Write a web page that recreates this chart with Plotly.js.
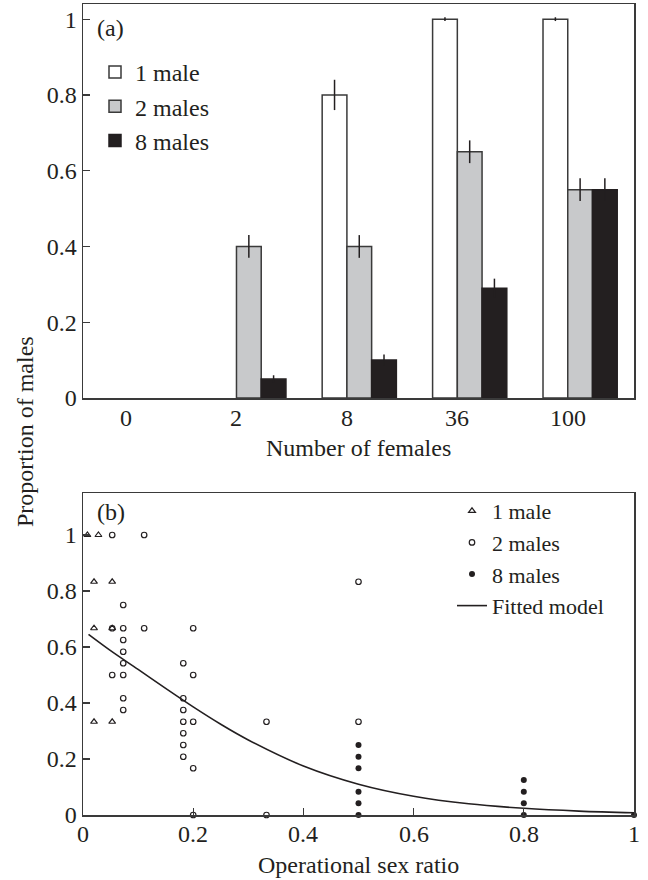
<!DOCTYPE html>
<html>
<head>
<meta charset="utf-8">
<script src="https://cdn.plot.ly/plotly-3.0.1.min.js"></script>
<style>html,body{margin:0;padding:0;background:#fff;}#chart{width:648px;height:880px;}</style>
</head>
<body>
<div id="chart"></div>
<script>
// Panel (a): proportion of males by number of females
const females = ['0', '2', '8', '36', '100'];
const male1 = [null, null, 0.80, 1.00, 1.00];
const male1Err = [0, 0, 0.04, 0.005, 0.005];
const males2 = [null, 0.40, 0.40, 0.65, 0.55];
const males2Err = [0, 0.03, 0.03, 0.03, 0.03];
const males8 = [null, 0.05, 0.10, 0.29, 0.55];
const males8Err = [0, 0.01, 0.015, 0.025, 0.03];

// Panel (b): proportion of males vs operational sex ratio
const osr1 = [0.008, 0.028, 0.020, 0.053, 0.020, 0.053, 0.020, 0.053];
const prop1 = [1.000, 1.000, 0.833, 0.833, 0.667, 0.667, 0.333, 0.333];

const osr2 = [0.053, 0.111, 0.073, 0.053, 0.073, 0.111, 0.200, 0.073, 0.073, 0.073,
              0.182, 0.053, 0.073, 0.200, 0.073, 0.182, 0.073, 0.182, 0.182, 0.200,
              0.333, 0.182, 0.182, 0.182, 0.200, 0.200, 0.333, 0.500, 0.500];
const prop2 = [1.000, 1.000, 0.750, 0.667, 0.667, 0.667, 0.667, 0.625, 0.583, 0.542,
               0.542, 0.500, 0.500, 0.500, 0.417, 0.417, 0.375, 0.375, 0.333, 0.333,
               0.333, 0.292, 0.250, 0.208, 0.167, 0.000, 0.000, 0.833, 0.333];

const osr8 = [0.5, 0.5, 0.5, 0.5, 0.5, 0.5, 0.8, 0.8, 0.8, 0.8, 1.0];
const prop8 = [0.250, 0.208, 0.167, 0.083, 0.042, 0.000, 0.125, 0.083, 0.042, 0.000, 0.000];

const fitX = [0.01, 0.05, 0.10, 0.15, 0.20, 0.25, 0.30, 0.40, 0.50, 0.60, 0.70, 0.80, 0.90, 1.00];
const fitY = [0.645, 0.587, 0.520, 0.452, 0.386, 0.324, 0.268, 0.175, 0.110, 0.067, 0.040, 0.024, 0.014, 0.008];

const yTicks = [0, 0.2, 0.4, 0.6, 0.8, 1];
const osrTicks = [0, 0.2, 0.4, 0.6, 0.8, 1];

const FONT = 'Liberation Serif, Times New Roman, serif';
const FS = 24;
const INK = '#231f20';
const W = 0.224;

const errStyle = (arr) => ({type: 'data', array: arr, visible: true, color: INK, thickness: 1.5, width: 0});

const traces = [
  {type: 'bar', x: females, y: male1, name: '1 male', offset: -W, width: W,
   marker: {color: '#ffffff', line: {color: '#3a3a3a', width: 1.5}},
   error_y: errStyle(male1Err), xaxis: 'x', yaxis: 'y', legend: 'legend', legendgroup: 'a1'},
  {type: 'bar', x: females, y: males2, name: '2 males', offset: 0, width: W,
   marker: {color: '#c8c9cb', line: {color: '#3a3a3a', width: 1.5}},
   error_y: errStyle(males2Err), xaxis: 'x', yaxis: 'y', legend: 'legend', legendgroup: 'a2'},
  {type: 'bar', x: females, y: males8, name: '8 males', offset: W, width: W,
   marker: {color: INK, line: {color: INK, width: 1.5}},
   error_y: errStyle(males8Err), xaxis: 'x', yaxis: 'y', legend: 'legend', legendgroup: 'a3'},

  {type: 'scatter', mode: 'markers', x: osr1, y: prop1, name: '1 male',
   marker: {symbol: 'triangle-up-open', size: 6, color: INK, line: {width: 1.2, color: INK}},
   xaxis: 'x2', yaxis: 'y2', legend: 'legend2', cliponaxis: false},
  {type: 'scatter', mode: 'markers', x: osr2, y: prop2, name: '2 males',
   marker: {symbol: 'circle-open', size: 5.5, color: INK, line: {width: 1.2, color: INK}},
   xaxis: 'x2', yaxis: 'y2', legend: 'legend2', cliponaxis: false},
  {type: 'scatter', mode: 'markers', x: osr8, y: prop8, name: '8 males',
   marker: {symbol: 'circle', size: 6, color: INK},
   xaxis: 'x2', yaxis: 'y2', legend: 'legend2', cliponaxis: false},
  {type: 'scatter', mode: 'lines', x: fitX, y: fitY, name: 'Fitted model',
   line: {color: INK, width: 1.6, shape: 'spline'},
   xaxis: 'x2', yaxis: 'y2', legend: 'legend2'}
];

const axisBase = {
  showline: true, linecolor: '#3a3a3a', linewidth: 1.5, mirror: true,
  showgrid: false, zeroline: false,
  tickfont: {family: FONT, size: FS, color: INK},
  ticklen: 7, tickwidth: 1.2, tickcolor: '#3a3a3a'
};

const txt = (text, extra) => Object.assign({
  text: text, showarrow: false, xanchor: 'center', yanchor: 'middle',
  font: {family: FONT, size: FS, color: INK}
}, extra);

// x tick labels drawn through each panel's own x axis (placed close to the frame as in the original)
const tickLabelsA = females.map((c, i) => txt(c, {x: i, xref: 'x', y: 1 - 418 / 880, yref: 'paper'}));
const tickLabelsB = osrTicks.map(v => txt(String(v), {x: v, xref: 'x2', y: 1 - 834 / 880, yref: 'paper'}));

const layout = {
  width: 648, height: 880,
  margin: {l: 0, r: 0, t: 0, b: 0},
  paper_bgcolor: '#ffffff', plot_bgcolor: '#ffffff',
  font: {family: FONT, size: FS, color: INK},
  barmode: 'overlay',
  showlegend: true,
  xaxis: Object.assign({}, axisBase, {
    domain: [83 / 648, 634 / 648], anchor: 'y', type: 'category',
    range: [-0.39, 4.6], ticks: '', showticklabels: false
  }),
  yaxis: Object.assign({}, axisBase, {
    domain: [1 - 398 / 880, 1 - 4 / 880], anchor: 'x',
    range: [0, 1.04], tickvals: yTicks, ticks: 'inside'
  }),
  xaxis2: Object.assign({}, axisBase, {
    domain: [83 / 648, 634 / 648], anchor: 'y2',
    range: [0, 1], tickvals: osrTicks, ticks: 'inside', showticklabels: false
  }),
  yaxis2: Object.assign({}, axisBase, {
    domain: [1 - 815 / 880, 1 - 493 / 880], anchor: 'x2',
    range: [0, 1.15], tickvals: yTicks, ticks: 'inside'
  }),
  legend: {
    x: 95 / 648, y: 1 - 50 / 880, xanchor: 'left', yanchor: 'top',
    bgcolor: 'rgba(0,0,0,0)', borderwidth: 0, tracegroupgap: 4,
    font: {family: FONT, size: FS, color: INK}, traceorder: 'normal'
  },
  legend2: {
    x: 452 / 648, y: 1 - 490 / 880, xanchor: 'left', yanchor: 'top',
    bgcolor: 'rgba(0,0,0,0)', borderwidth: 0, itemsizing: 'trace',
    font: {family: FONT, size: 22, color: INK}, traceorder: 'normal'
  },
  annotations: [
    txt('(a)', {xref: 'paper', yref: 'paper', x: 95 / 648, y: 1 - 28 / 880, xanchor: 'left'}),
    txt('(b)', {xref: 'paper', yref: 'paper', x: 95 / 648, y: 1 - 512 / 880, xanchor: 'left'}),
    txt('Number of females', {xref: 'paper', yref: 'paper', x: 358.5 / 648, y: 1 - 448 / 880}),
    txt('Operational sex ratio', {xref: 'paper', yref: 'paper', x: 358.5 / 648, y: 1 - 865 / 880}),
    txt('Proportion of males', {xref: 'paper', yref: 'paper', x: 25 / 648, y: 1 - 432 / 880, textangle: -90})
  ].concat(tickLabelsA, tickLabelsB)
};

Plotly.newPlot('chart', traces, layout, {displayModeBar: false, staticPlot: true});
</script>
</body>
</html>
